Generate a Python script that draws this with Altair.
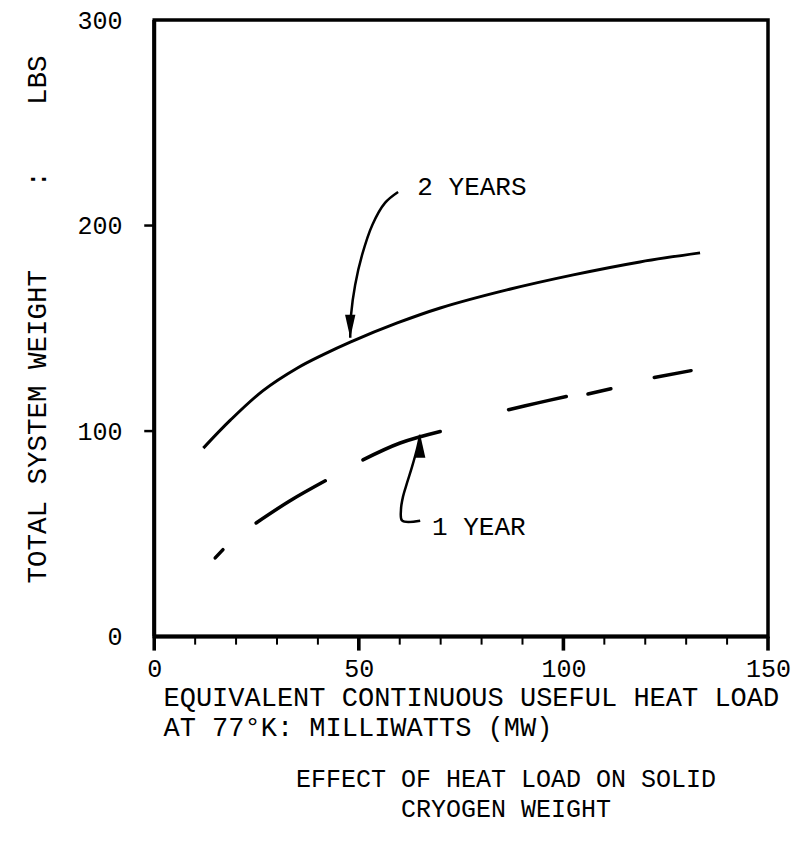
import altair as alt
import pandas as pd

# ---- data ----
two_year_x = [12.0, 18.6, 26.6, 34.9, 41.3, 47.9, 59.4, 69.9, 86.2, 102.4, 118.7, 133.4]
two_year_y = [91.7, 105.3, 119.7, 130.6, 137.2, 143.3, 152.6, 159.9, 168.7, 176.0, 182.3, 186.7]

one_year_x = [14.9, 16.8, 24.9, 33.2, 41.8, 51.0, 60.1, 69.9, 86.6, 93.5, 100.7, 106.0, 111.6, 122.2, 131.2]
one_year_y = [38.3, 42.3, 55.3, 66.1, 75.8, 86.0, 94.2, 99.8, 110.4, 113.6, 116.8, 118.0, 120.6, 126.1, 129.4]
one_year_dash = [1, 1, 2, 2, 2, 3, 3, 3, 4, 4, 4, 5, 5, 6, 6]

arrow2_x = [59.6, 56.4, 53.3, 50.8, 49.1, 48.1, 47.9]
arrow2_y = [216.3, 211.0, 200.3, 185.7, 171.1, 156.5, 145.4]
arrow1_x = [65.0, 60.6, 60.3, 60.8, 61.8, 63.0, 64.3, 65.0]
arrow1_y = [56.4, 56.4, 61.7, 68.1, 74.9, 82.6, 91.9, 98.2]

label_text = ["2 YEARS", "1 YEAR"]
label_x = [64.3, 67.9]
label_y = [214.9, 49.6]

x_major_ticks = [0, 50, 100, 150]
x_minor_ticks = [10, 20, 30, 40, 60, 70, 80, 90, 110, 120, 130, 140]
y_ticks = [0, 100, 200, 300]
y_tick_marks = [100, 200]
frame_x = [0, 150]
frame_y = [0, 300]

FONT = "Liberation Mono"
NB = "\u00a0"

# tick lengths expressed in data units (outer margin of the scales)
MAJOR_LEN, MINOR_LEN, YTICK_LEN = 6.8, 3.9, 2.44

two_df = pd.DataFrame({"x": two_year_x, "y": two_year_y})
one_df = pd.DataFrame({"x": one_year_x, "y": one_year_y, "dash": one_year_dash})
arrows_df = pd.concat([
    pd.DataFrame({"x": arrow2_x, "y": arrow2_y, "arrow": "a2", "o": range(len(arrow2_x))}),
    pd.DataFrame({"x": arrow1_x, "y": arrow1_y, "arrow": "a1", "o": range(len(arrow1_x))}),
])
heads_df = pd.DataFrame({
    "x": [arrow2_x[-1], arrow1_x[-1]],
    "y": [arrow2_y[-1], arrow1_y[-1]],
    "shape": ["M -0.45 -2 L 0 0 L 0.45 -2 Z", "M -0.45 2 L 0 0 L 0.45 2 Z"],
})
labels_df = pd.DataFrame({"t": label_text, "x": label_x, "y": label_y})
frame_df = pd.DataFrame({"x0": [frame_x[0]], "x1": [frame_x[1]], "y0": [frame_y[0]], "y1": [frame_y[1]]})
axis_lines_df = pd.DataFrame({
    "x0": [frame_x[0], frame_x[0]], "x1": [frame_x[0], frame_x[1]],
    "y0": [frame_y[0], frame_y[0]], "y1": [frame_y[1], frame_y[0]],
})
major_df = pd.DataFrame({"v": x_major_ticks, "a": 0.0, "b": -MAJOR_LEN})
minor_df = pd.DataFrame({"v": x_minor_ticks, "a": 0.0, "b": -MINOR_LEN})
ytick_df = pd.DataFrame({"v": y_tick_marks, "a": 0.0, "b": -YTICK_LEN})

PLOT_W, PLOT_H = 624, 631

xscale = alt.Scale(domain=[-2.5, 150], nice=False, zero=False)
yscale = alt.Scale(domain=[-7, 300], nice=False, zero=False)

xaxis = alt.Axis(
    values=x_major_ticks,
    domain=False, ticks=False, tickSize=0, grid=False,
    labelPadding=5,
    labelOverlap=False,
    labelFlush=False,
    labelFont=FONT, labelFontSize=25, labelColor="black",
    title=["EQUIVALENT CONTINUOUS USEFUL HEAT LOAD", "AT 77°K: MILLIWATTS (MW)"],
    titleFont=FONT, titleFontSize=27, titleFontWeight="normal", titleColor="black",
    titleX=19, titleY=54, titleAlign="left", titleBaseline="alphabetic",
    titleLineHeight=30, titleAngle=0,
)
yaxis = alt.Axis(
    values=y_ticks,
    domain=False, ticks=False, tickSize=0, grid=False,
    labelPadding=22,
    labelFont=FONT, labelFontSize=25, labelColor="black",
    labelOverlap=False, labelFlush=False,
    title="TOTAL SYSTEM WEIGHT" + NB * 5 + ":" + NB * 4 + "LBS",
    titleFont=FONT, titleFontSize=27.5, titleFontWeight="normal", titleColor="black",
    titleX=-107, titleY=299, titleAngle=-90, titleAlign="center", titleBaseline="middle",
)

two_line = alt.Chart(two_df).mark_line(color="black", strokeWidth=3, interpolate="catmull-rom").encode(
    x=alt.X("x:Q", scale=xscale, axis=xaxis),
    y=alt.Y("y:Q", scale=yscale, axis=yaxis),
)
frame = alt.Chart(frame_df).mark_rect(filled=False, stroke="black", strokeWidth=3.5).encode(
    x="x0:Q", x2="x1:Q", y="y0:Q", y2="y1:Q",
)
axis_lines = alt.Chart(axis_lines_df).mark_rule(color="black", strokeWidth=4).encode(
    x="x0:Q", x2="x1:Q", y="y0:Q", y2="y1:Q",
)
one_line = alt.Chart(one_df).mark_line(color="black", strokeWidth=3.5, interpolate="catmull-rom", strokeCap="round").encode(
    x="x:Q", y="y:Q", detail="dash:N",
)
arrow_lines = alt.Chart(arrows_df).mark_line(color="black", strokeWidth=2.5, interpolate="catmull-rom").encode(
    x="x:Q", y="y:Q", detail="arrow:N", order="o:Q",
)
arrow_heads = alt.Chart(heads_df).mark_point(filled=True, color="black", size=529, opacity=1).encode(
    x="x:Q", y="y:Q", shape=alt.Shape("shape:N", scale=None),
)
labels = alt.Chart(labels_df).mark_text(
    font=FONT, fontSize=26, color="black", align="left", baseline="alphabetic"
).encode(x="x:Q", y="y:Q", text="t:N")

major_rules = alt.Chart(major_df).mark_rule(color="black", strokeWidth=3.6).encode(
    x="v:Q", y="a:Q", y2="b:Q",
)
minor_rules = alt.Chart(minor_df).mark_rule(color="black", strokeWidth=2).encode(
    x="v:Q", y="a:Q", y2="b:Q",
)
y_rules = alt.Chart(ytick_df).mark_rule(color="black", strokeWidth=2.5).encode(
    y="v:Q", x="a:Q", x2="b:Q",
)

chart = alt.layer(
    frame, axis_lines, two_line, one_line, arrow_lines, arrow_heads, labels,
    major_rules, minor_rules, y_rules
).properties(
    width=PLOT_W, height=PLOT_H,
    title=alt.TitleParams(
        text=["EFFECT OF HEAT LOAD ON SOLID", "CRYOGEN WEIGHT"],
        orient="bottom", anchor="middle", dx=50, offset=27,
        font=FONT, fontSize=25, fontWeight="normal", color="black", lineHeight=30,
    ),
    autosize=alt.AutoSizeParams(type="none"),
    padding={"left": 136, "top": 12, "right": 25, "bottom": 185},
).configure_view(strokeWidth=0)

chart.save("out.html", embed_options={"renderer": "svg", "actions": False})
